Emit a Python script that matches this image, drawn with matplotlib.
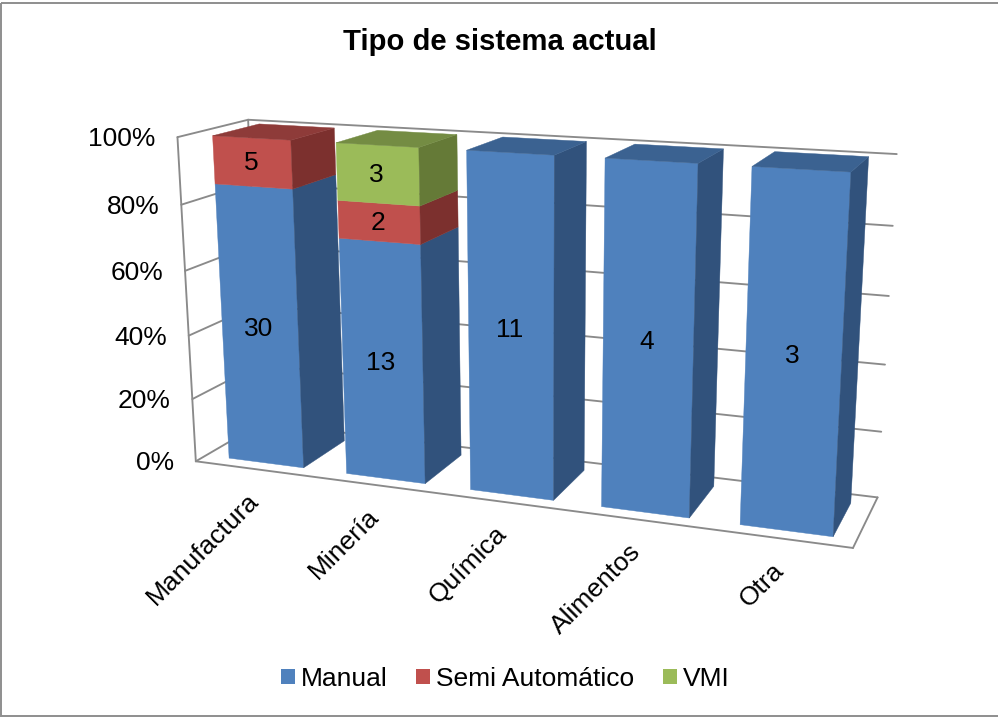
import numpy as np
import matplotlib
matplotlib.use("Agg")
import matplotlib.pyplot as plt
from matplotlib.patches import Patch, Polygon, Rectangle

plt.rcParams["font.family"] = ["Liberation Sans", "DejaVu Sans"]

# Chart data
categories = ["Manufactura", "Minería", "Química", "Alimentos", "Otra"]
manual = [30, 13, 11, 4, 3]
semi_automatico = [5, 2, 0, 0, 0]
vmi = [0, 3, 0, 0, 0]
series_names = ["Manual", "Semi Automático", "VMI"]
percent_ticks = [0, 20, 40, 60, 80, 100]

# Face colours per series: front, side, top
FACE_COLOURS = [
    ("#4F81BD", "#31527C", "#3B6291"),
    ("#C0504D", "#7C302E", "#8E3B39"),
    ("#9BBB59", "#657A37", "#748C43"),
]
GRID = "#8A8A8A"

# Camera calibration: box corners (category, height, depth) against pixel positions
BOX_CORNERS = np.array([[0, 0, 0], [0, 1, 0], [0, 1, 1], [1, 1, 1],
                        [1, 0, 1], [1, 0, 0], [0, 0, 1]], float)
BOX_PIXELS = np.array([[195.7, 461.0], [177.3, 137.7], [248.3, 119.3], [896.7, 154.0],
                       [877.3, 497.7], [853.3, 547.7], [262.0, 423.0]])


def fit_camera(world, pixels):
    rows, rhs = [], []
    for (x, y, z), (px, py) in zip(world, pixels):
        rows.append([x, y, z, 1, 0, 0, 0, 0, -px * x, -px * y, -px * z])
        rhs.append(px)
        rows.append([0, 0, 0, 0, x, y, z, 1, -py * x, -py * y, -py * z])
        rhs.append(py)
    sol = np.linalg.lstsq(np.array(rows), np.array(rhs), rcond=None)[0]
    return np.append(sol, 1.0).reshape(3, 4)


CAMERA = fit_camera(BOX_CORNERS, BOX_PIXELS)


def project(u, v, w):
    h = CAMERA @ np.array([u, v, w, 1.0])
    return h[0] / h[2], h[1] / h[2]


fig = plt.figure(figsize=(9.98, 7.17), dpi=100, facecolor="white")
ax = fig.add_axes([0, 0, 1, 1])
ax.set_xlim(0, 998)
ax.set_ylim(717, 0)
ax.axis("off")

# Chart frame; its right edge runs off the canvas
ax.add_patch(Rectangle((1, 2.7), 1005, 713, fill=False, ec="#8E8E8E", lw=1.4, clip_on=True))


def wire(a, b, lw=1.35):
    pa, pb = project(*a), project(*b)
    ax.plot([pa[0], pb[0]], [pa[1], pb[1]], color=GRID, lw=lw, solid_capstyle="round", zorder=1)


# Walls and floor
for pct in percent_ticks:
    v = pct / 100
    wire((0, v, 0), (0, v, 1))
    wire((0, v, 1), (1, v, 1))
wire((0, 0, 0), (0, 1, 0))
wire((0, 0, 1), (0, 1, 1))
wire((0, 0, 0), (1, 0, 0))
wire((1, 0, 0), (1, 0, 1))

# Stacked 100% bars
BAR_FILL = 0.64
BAR_SHIFT = 0.004
DEPTH_FRONT, DEPTH_BACK = 0.15, 0.82
n = len(categories)


def face(corners, colour):
    pts = [project(*c) for c in corners]
    ax.add_patch(Polygon(pts, closed=True, fc=colour, ec=colour, lw=0.3, zorder=2))


stacks = np.array([manual, semi_automatico, vmi], float)
for i in range(n):
    total = stacks[:, i].sum()
    u0 = (i + (1 - BAR_FILL) / 2) / n + BAR_SHIFT
    u1 = (i + (1 + BAR_FILL) / 2) / n + BAR_SHIFT
    base = 0.0
    top_colour = None
    labels = []
    for s in range(len(stacks)):
        value = stacks[s, i]
        if value == 0:
            continue
        top = base + value / total
        front, side, lid = FACE_COLOURS[s]
        face([(u0, base, DEPTH_FRONT), (u1, base, DEPTH_FRONT),
              (u1, top, DEPTH_FRONT), (u0, top, DEPTH_FRONT)], front)
        face([(u1, base, DEPTH_FRONT), (u1, base, DEPTH_BACK),
              (u1, top, DEPTH_BACK), (u1, top, DEPTH_FRONT)], side)
        labels.append(((u0 + u1) / 2, (base + top) / 2, int(value)))
        base = top
        top_colour = lid
    face([(u0, 1, DEPTH_FRONT), (u1, 1, DEPTH_FRONT),
          (u1, 1, DEPTH_BACK), (u0, 1, DEPTH_BACK)], top_colour)
    for um, vm, value in labels:
        x, y = project(um, vm, DEPTH_FRONT)
        ax.text(x - 1.5, y + 1, str(value), ha="center", va="center", fontsize=19, color="black", zorder=5)

# Percentage axis labels
for pct in percent_ticks:
    x, y = project(0, pct / 100, 0)
    ax.text(x - 22, y + 2, f"{pct}%", ha="right", va="center", fontsize=19, color="black")

# Category labels
for i, name in enumerate(categories):
    x, y = project((i + 0.5) / n, 0, 0)
    ax.text(x - 7, y + 20, name, ha="right", va="top", rotation=45,
            rotation_mode="anchor", fontsize=19, color="black")

ax.text(500, 42, "Tipo de sistema actual", ha="center", va="center",
        fontsize=21.1, fontweight="bold", color="black")

handles = [Patch(fc=FACE_COLOURS[k][0], ec="none", label=series_names[k]) for k in range(3)]
ax.legend(handles=handles, ncol=3, frameon=False, fontsize=19, loc="center",
          bbox_to_anchor=(505 / 998, 1 - 679 / 717), handlelength=0.53, handleheight=0.53,
          handletextpad=0.23, columnspacing=1.08, borderpad=0, labelspacing=0)

fig.savefig("out.png", dpi=100)
